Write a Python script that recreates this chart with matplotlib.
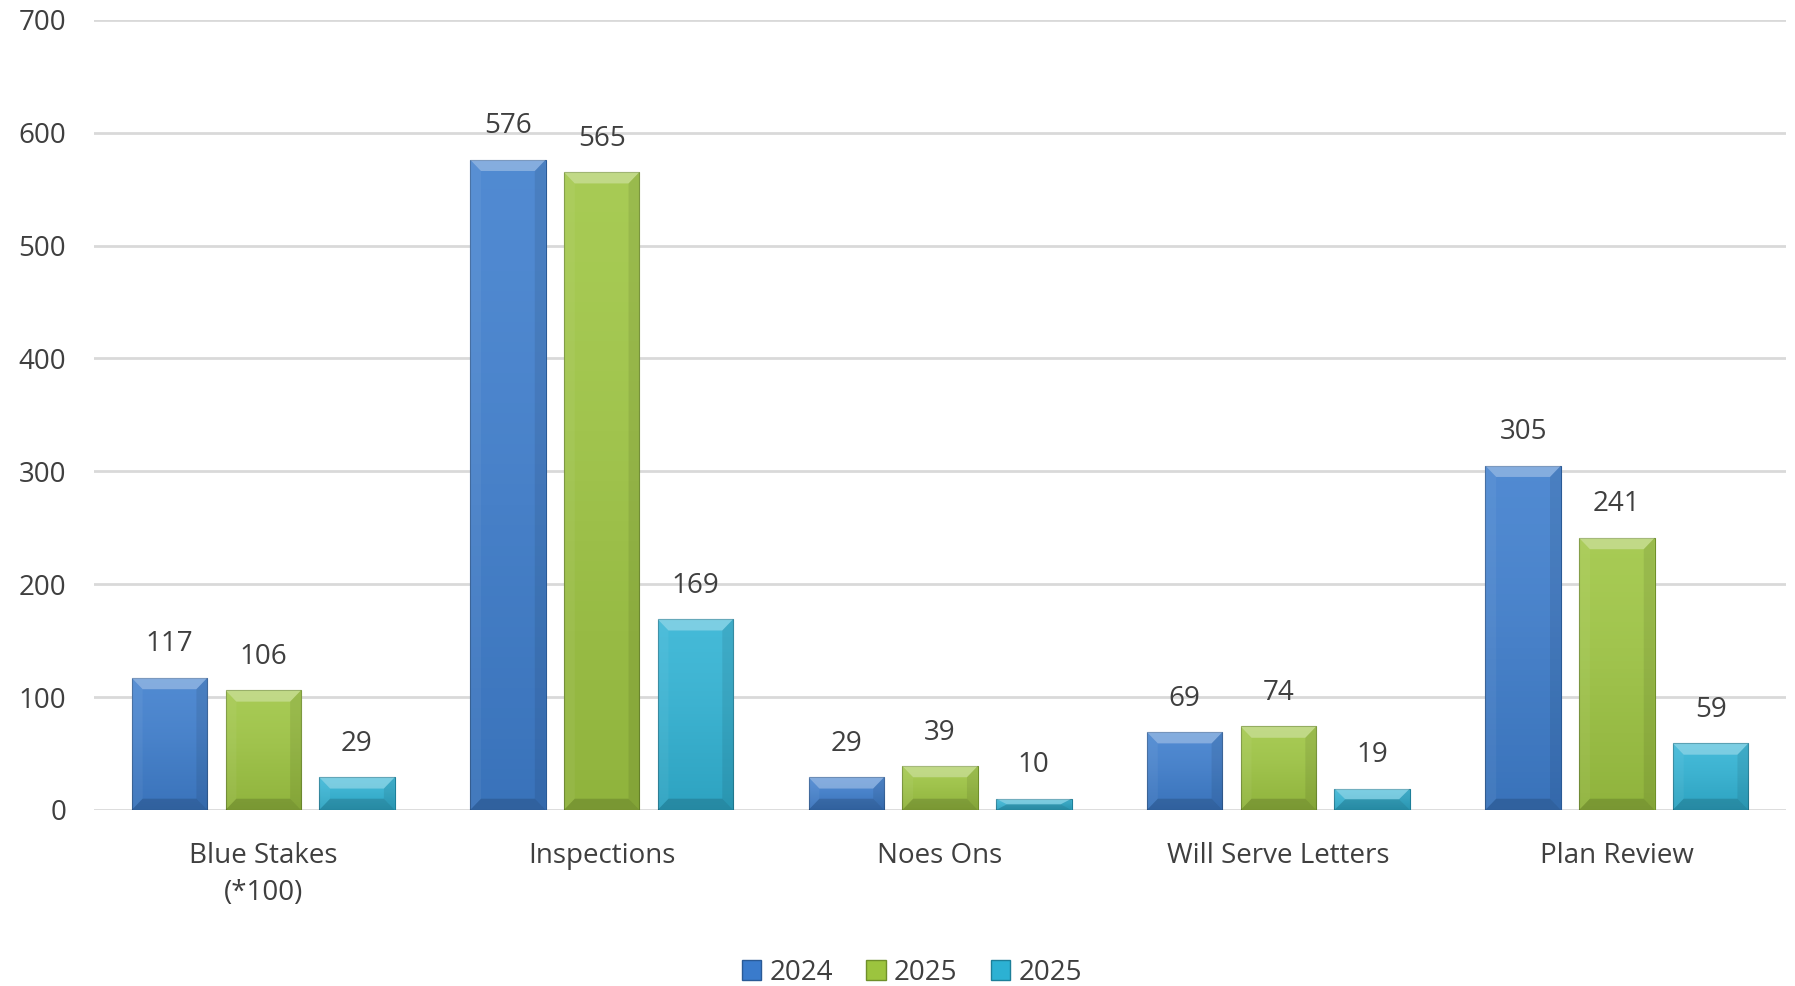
import matplotlib.pyplot as plt
import matplotlib.patches as patches
import numpy as np

# Data
categories = ['Blue Stakes\n(*100)', 'Inspections', 'Noes Ons', 'Will Serve Letters', 'Plan Review']
series_names = ['2024', '2025', '2025']
vals_2024 = [117, 576, 29, 69, 305]
vals_2025 = [106, 565, 39, 74, 241]
vals_2025b = [29, 169, 10, 19, 59]
y_ticks = [0, 100, 200, 300, 400, 500, 600, 700]

colors = ['#3a7bcc', '#9cc43e', '#2cb1d3']
edge_cols = ['#2a5a96', '#6f8f2a', '#1d7f99']
txt_col = '#3f3f3f'

plt.rcParams['font.family'] = ['Open Sans', 'DejaVu Sans']

fig = plt.figure(figsize=(17.95, 9.86), dpi=100)
ax = fig.add_axes([0.0524, 0.1785, 0.9426, 0.8015])

x = np.arange(len(categories))
width = 0.223
step = 0.277
series = [vals_2024, vals_2025, vals_2025b]

ax.set_xlim(-0.5, len(categories) - 0.5)
ax.set_ylim(0, 700)

# bevel size in data units (about 11 px)
bev_x = 0.032
bev_y = 10.0

def bevel(ax, x0, w, h):
    x1 = x0 + w
    dy = min(bev_y, h / 2)
    dx = bev_x
    top = [(x0, h), (x1, h), (x1 - dx, h - dy), (x0 + dx, h - dy)]
    left = [(x0, 0), (x0, h), (x0 + dx, h - dy), (x0 + dx, dy)]
    right = [(x1, 0), (x1, h), (x1 - dx, h - dy), (x1 - dx, dy)]
    bottom = [(x0, 0), (x1, 0), (x1 - dx, dy), (x0 + dx, dy)]
    ax.add_patch(patches.Polygon(top, closed=True, facecolor='white', alpha=0.3, lw=0, zorder=4))
    ax.add_patch(patches.Polygon(left, closed=True, facecolor='white', alpha=0.05, lw=0, zorder=4))
    ax.add_patch(patches.Polygon(right, closed=True, facecolor='black', alpha=0.08, lw=0, zorder=4))
    ax.add_patch(patches.Polygon(bottom, closed=True, facecolor='black', alpha=0.15, lw=0, zorder=4))

for i, vals in enumerate(series):
    pos = x + (i - 1) * step
    bars = ax.bar(pos, vals, width, color=colors[i], edgecolor=edge_cols[i],
                  linewidth=0.8, zorder=3, label=series_names[i])
    for b, v in zip(bars, vals):
        bevel(ax, b.get_x(), b.get_width(), v)
        # slight vertical shading: darker toward bottom
        grad = np.linspace(0, 1, 64).reshape(-1, 1)
        ax.imshow(grad, extent=(b.get_x(), b.get_x() + b.get_width(), 0, v),
                  cmap='Greys', alpha=0.12, vmin=0, vmax=1.2, aspect='auto', zorder=3.5,
                  origin='upper')
        ax.annotate(str(v), (b.get_x() + b.get_width() / 2, v), xytext=(0, 14),
                    textcoords='offset points', ha='center', va='bottom',
                    fontsize=20, color=txt_col)

ax.set_xlim(-0.5, len(categories) - 0.5)
ax.set_ylim(0, 700)
ax.set_yticks(y_ticks)
ax.set_xticks(x)
ax.set_xticklabels(categories, fontsize=20, color=txt_col, linespacing=1.45)
ax.tick_params(axis='y', labelsize=20, labelcolor=txt_col, length=0, pad=20)
ax.tick_params(axis='x', length=0, pad=23)
ax.yaxis.grid(True, color='#d9d9d9', linewidth=2)
ax.set_axisbelow(True)
for s in ax.spines.values():
    s.set_visible(False)

handles = [patches.Patch(facecolor=colors[i], edgecolor=edge_cols[i]) for i in range(3)]
fig.legend(handles, series_names, loc='lower center', ncol=3, frameon=False,
           fontsize=20, bbox_to_anchor=(0.508, -0.026), handlelength=0.7, handleheight=0.7,
           handletextpad=0.3, columnspacing=1.2, labelcolor=txt_col)

fig.savefig('out.png', dpi=100, facecolor='white')
